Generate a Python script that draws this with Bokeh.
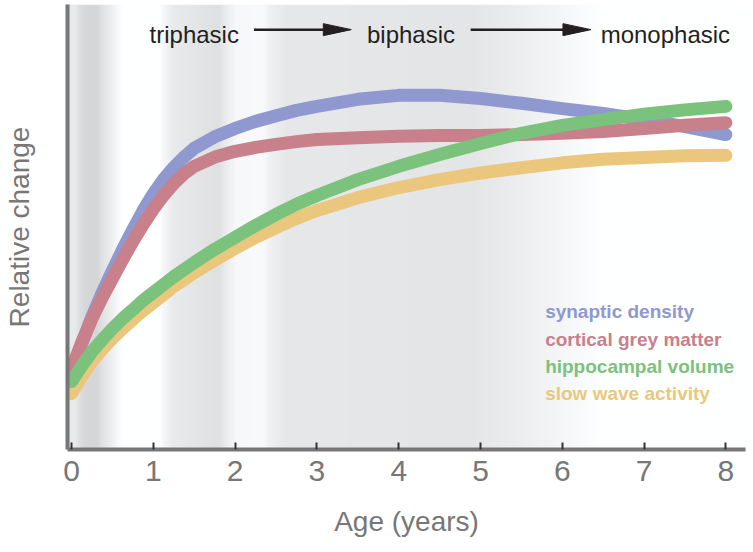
import numpy as np
from bokeh.plotting import figure
from bokeh.models import Range1d, FixedTicker, Label
from bokeh.embed import file_html
from bokeh.resources import INLINE

# ---------------- data ----------------
age = [0, 0.125, 0.25, 0.375, 0.5, 0.625, 0.75, 0.875, 1.0, 1.125, 1.25, 1.375, 1.5,
       1.75, 2.0, 2.25, 2.5, 2.75, 3.0, 3.5, 4.0, 4.5, 5.0, 5.5, 6.0, 6.5, 7.0, 7.5, 8.0]
synaptic_density = [0.175, 0.240, 0.302, 0.356, 0.406, 0.454, 0.499, 0.542, 0.580, 0.613,
                    0.640, 0.663, 0.683, 0.709, 0.728, 0.744, 0.757, 0.769, 0.778, 0.794,
                    0.803, 0.803, 0.796, 0.785, 0.773, 0.762, 0.748, 0.732, 0.714]
cortical_grey_matter = [0.184, 0.243, 0.297, 0.345, 0.388, 0.431, 0.472, 0.510, 0.545, 0.576,
                        0.603, 0.625, 0.642, 0.663, 0.676, 0.685, 0.692, 0.698, 0.703, 0.707,
                        0.710, 0.712, 0.712, 0.714, 0.717, 0.721, 0.728, 0.735, 0.741]
hippocampal_volume = [0.154, 0.190, 0.222, 0.249, 0.274, 0.297, 0.317, 0.338, 0.356, 0.374,
                      0.392, 0.408, 0.424, 0.454, 0.481, 0.508, 0.533, 0.556, 0.576, 0.612,
                      0.642, 0.669, 0.694, 0.717, 0.735, 0.748, 0.760, 0.770, 0.778]
slow_wave_activity = [0.127, 0.166, 0.200, 0.227, 0.252, 0.274, 0.295, 0.315, 0.333, 0.351,
                      0.370, 0.385, 0.401, 0.429, 0.456, 0.481, 0.503, 0.524, 0.542, 0.571,
                      0.594, 0.612, 0.627, 0.639, 0.650, 0.658, 0.662, 0.666, 0.667]

series_names = ["synaptic density", "cortical grey matter", "hippocampal volume", "slow wave activity"]
series_values = [synaptic_density, cortical_grey_matter, hippocampal_volume, slow_wave_activity]
series_colors = ["#9098d0", "#c8808a", "#7bc27d", "#ebc77d"]
draw_order = [0, 1, 3, 2]

x_ticks = [0, 1, 2, 3, 4, 5, 6, 7, 8]
phase_labels = ["triphasic", "biphasic", "monophasic"]
phase_x = [1.50, 4.15, 7.26]

# background shading (style): stops in x (years) and grey level
shade_x = [-0.05, 0.02, 0.10, 0.18, 0.30, 0.39, 0.49, 0.58, 0.63, 1.07, 1.13, 1.24, 1.59,
           1.79, 1.90, 2.00, 2.34, 2.42, 2.62, 4.88, 5.49, 6.10, 6.47, 8.24]
shade_v = [228, 236, 222, 214, 214, 228, 240, 252, 255, 255, 246, 234, 228,
           224, 238, 248, 250, 240, 232, 229, 238, 248, 255, 255]

X0, X1 = -0.05, 8.24
Y0, Y1 = 0.0, 1.009
FONT = "Liberation Sans"
GREY = "#777777"

p = figure(width=752, height=552, x_range=Range1d(X0, X1), y_range=Range1d(Y0, Y1),
           output_backend="svg", toolbar_location=None,
           min_border_left=66, min_border_right=7, min_border_top=4, min_border_bottom=103)
p.outline_line_color = None
p.grid.visible = False
p.background_fill_color = "white"
p.border_fill_color = "white"

# background gradient as an image row
ncol = 679
cols = np.linspace(X0, X1, ncol)
v = np.interp(cols, shade_x, shade_v)
img = np.zeros((1, ncol), dtype=np.uint32)
view = img.view(dtype=np.uint8).reshape((1, ncol, 4))
view[0, :, 0] = np.clip(v - 1, 0, 255).astype(np.uint8)
view[0, :, 1] = np.clip(v, 0, 255).astype(np.uint8)
view[0, :, 2] = np.clip(v + 2, 0, 255).astype(np.uint8)
view[0, :, 3] = 255
p.image_rgba(image=[img], x=X0, y=Y0, dw=X1 - X0, dh=Y1 - Y0)

# curves
for i in draw_order:
    p.line(age, series_values[i], line_color=series_colors[i], line_width=13,
           line_cap="round", line_join="round")

# legend as coloured text
legend_x = 5.79
legend_y = [0.3136, 0.2494, 0.1882, 0.127]
for name, col, ly in zip(series_names, series_colors, legend_y):
    p.add_layout(Label(x=legend_x, y=ly, text=name, text_color=col, text_font=FONT,
                       text_font_size="19px", text_font_style="bold",
                       text_baseline="alphabetic", text_align="left"))

# phase labels and arrows
for t, px in zip(phase_labels, phase_x):
    p.add_layout(Label(x=px, y=0.940, text=t, text_color="#231f20", text_font=FONT,
                       text_font_size="24px", text_baseline="alphabetic", text_align="center"))

arrow_y = 0.952
arrow_start = [2.23, 4.88]
arrow_tip = [3.42, 6.35]
head_len = 0.342
head_half = 0.0136
p.segment(x0=arrow_start, y0=[arrow_y] * 2, x1=[t - head_len + 0.02 for t in arrow_tip],
          y1=[arrow_y] * 2, line_color="#231f20", line_width=2.5)
p.patches(xs=[[t, t - head_len, t - head_len] for t in arrow_tip],
          ys=[[arrow_y, arrow_y + head_half, arrow_y - head_half] for _ in arrow_tip],
          fill_color="#231f20", line_color="#231f20", line_width=1)

# axes
p.xaxis.ticker = FixedTicker(ticks=x_ticks)
p.yaxis.ticker = FixedTicker(ticks=[])
for ax in (p.xaxis[0], p.yaxis[0]):
    ax.axis_line_color = GREY
    ax.axis_line_width = 4
    ax.major_tick_line_color = "#333333"
    ax.major_tick_line_width = 2
    ax.major_tick_in = 7
    ax.major_tick_out = 0
    ax.minor_tick_line_color = None
    ax.major_label_text_color = GREY
    ax.major_label_text_font = FONT
    ax.major_label_text_font_size = "30px"
    ax.axis_label_text_color = GREY
    ax.axis_label_text_font = FONT
    ax.axis_label_text_font_size = "28px"
    ax.axis_label_text_font_style = "normal"

p.xaxis.axis_label = "Age (years)"
p.xaxis.major_label_standoff = 11
p.xaxis.axis_label_standoff = 22
p.yaxis.axis_label = "Relative change"
p.yaxis.axis_label_standoff = 33
p.yaxis.major_label_text_font_size = "0px"

open("out.html", "w").write(file_html(p, INLINE))
